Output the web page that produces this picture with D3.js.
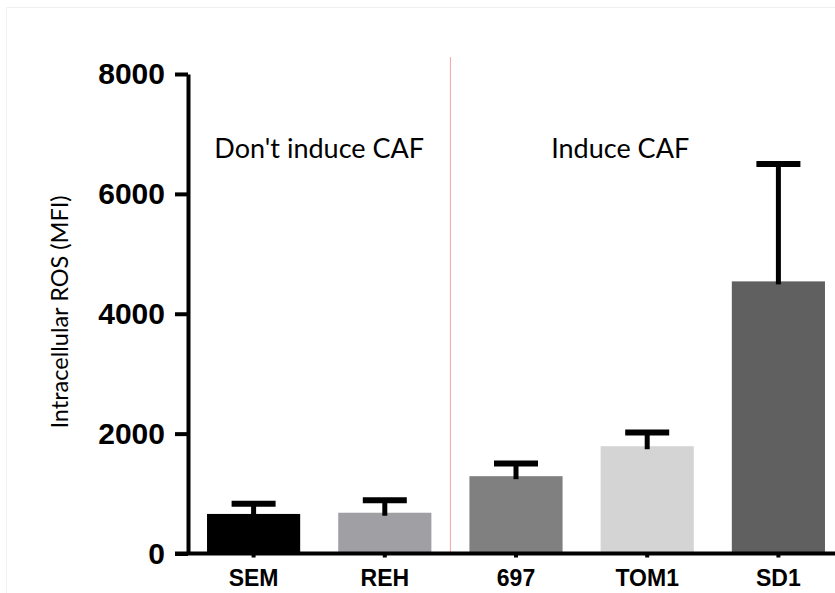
<!DOCTYPE html>
<html>
<head>
<meta charset="utf-8">
<script src="https://cdn.jsdelivr.net/npm/d3@7"></script>
<style>
  body { margin: 0; background: #fff; }
  svg { display: block; }
</style>
</head>
<body>
<div id="chart"></div>
<script>
// data
const cellLines = ["SEM", "REH", "697", "TOM1", "SD1"]
const meanRos = [660, 680, 1290, 1790, 4540]
const semRos = [170, 210, 210, 230, 1960]
const barColors = ["#000000", "#a0a0a4", "#808080", "#d4d4d4", "#606060"]
const yTicks = [0, 2000, 4000, 6000, 8000]
const groupLabels = ["Don't induce CAF", "Induce CAF"]

const W = 835, H = 593
const X0 = 188, X1 = 844
const Y0 = 553.5, Y1 = 74

const svg = d3.select("#chart")
              .append("svg")
              .attr("width", W)
              .attr("height", H)

// faint frame of the pasted figure
svg.append("path")
   .attr("d", `M6.5,${H} V7.5 H${W}`)
   .attr("fill", "none")
   .attr("stroke", "#f0f0f0")
   .attr("stroke-width", 1)

const x = d3.scaleBand()
            .domain(cellLines)
            .range([X0, X1])
            .paddingInner(0.29)
            .paddingOuter(0.145)

const y = d3.scaleLinear()
            .domain([0, 8000])
            .range([Y0, Y1])

// divider between the two groups
const divX = (x("REH") + x.bandwidth() + x("697")) / 2
svg.append("line")
   .attr("x1", divX).attr("x2", divX)
   .attr("y1", 57).attr("y2", Y0)
   .attr("stroke", "#f5a3a3")
   .attr("stroke-width", 1)

// bars
svg.selectAll("rect.bar")
   .data(cellLines)
   .enter()
   .append("rect")
   .attr("class", "bar")
   .attr("x", d => x(d))
   .attr("y", (d, i) => y(meanRos[i]))
   .attr("width", x.bandwidth())
   .attr("height", (d, i) => Y0 - y(meanRos[i]))
   .attr("fill", (d, i) => barColors[i])

// error bars (upper only)
const err = svg.append("g").attr("stroke", "#000")
cellLines.forEach((d, i) => {
  const cx = x(d) + x.bandwidth() / 2
  const top = y(meanRos[i] + semRos[i])
  err.append("line")
     .attr("x1", cx).attr("x2", cx)
     .attr("y1", y(meanRos[i]) + 3).attr("y2", top)
     .attr("stroke-width", 5)
  err.append("line")
     .attr("x1", cx - 22).attr("x2", cx + 22)
     .attr("y1", top).attr("y2", top)
     .attr("stroke-width", 6)
})

// axes
const yAxis = svg.append("g")
                 .attr("transform", `translate(${X0},0)`)
                 .call(d3.axisLeft(y)
                         .tickValues(yTicks)
                         .tickFormat(d3.format("d"))
                         .tickSize(13)
                         .tickSizeOuter(0)
                         .tickPadding(10))
yAxis.selectAll("path, line").attr("stroke", "#000").attr("stroke-width", 4)
yAxis.selectAll("text")
     .attr("fill", "#000")
     .style("font-family", "'Liberation Sans', Arial, sans-serif")
     .style("font-weight", "bold")
     .style("font-size", "30px")

const xAxis = svg.append("g")
                 .attr("transform", `translate(0,${Y0})`)
                 .call(d3.axisBottom(x)
                         .tickSize(4)
                         .tickSizeOuter(0)
                         .tickPadding(12))
xAxis.select("path").attr("stroke", "#000").attr("stroke-width", 4)
     .attr("d", `M${X0 - 13},0H${W + 5}`)
xAxis.selectAll("line").attr("stroke", "#000").attr("stroke-width", 4)
xAxis.selectAll("text")
     .attr("fill", "#000")
     .style("font-family", "'Liberation Sans', Arial, sans-serif")
     .style("font-weight", "bold")
     .style("font-size", "23px")

// y axis title
svg.append("text")
   .attr("transform", `translate(68,${312}) rotate(-90)`)
   .attr("text-anchor", "middle")
   .style("font-family", "Lato, 'Open Sans', sans-serif")
   .style("font-size", "23.5px")
   .text("Intracellular ROS (MFI)")

// group labels
const groupCenters = [
  (x("SEM") + x("REH") + x.bandwidth()) / 2,
  (x("697") + x("SD1") + x.bandwidth()) / 2 - 27
]
svg.selectAll("text.group")
   .data(groupLabels)
   .enter()
   .append("text")
   .attr("class", "group")
   .attr("x", (d, i) => groupCenters[i])
   .attr("y", 158)
   .attr("text-anchor", "middle")
   .style("font-family", "Lato, 'Open Sans', sans-serif")
   .style("font-size", "27px")
   .text(d => d)
</script>
</body>
</html>
